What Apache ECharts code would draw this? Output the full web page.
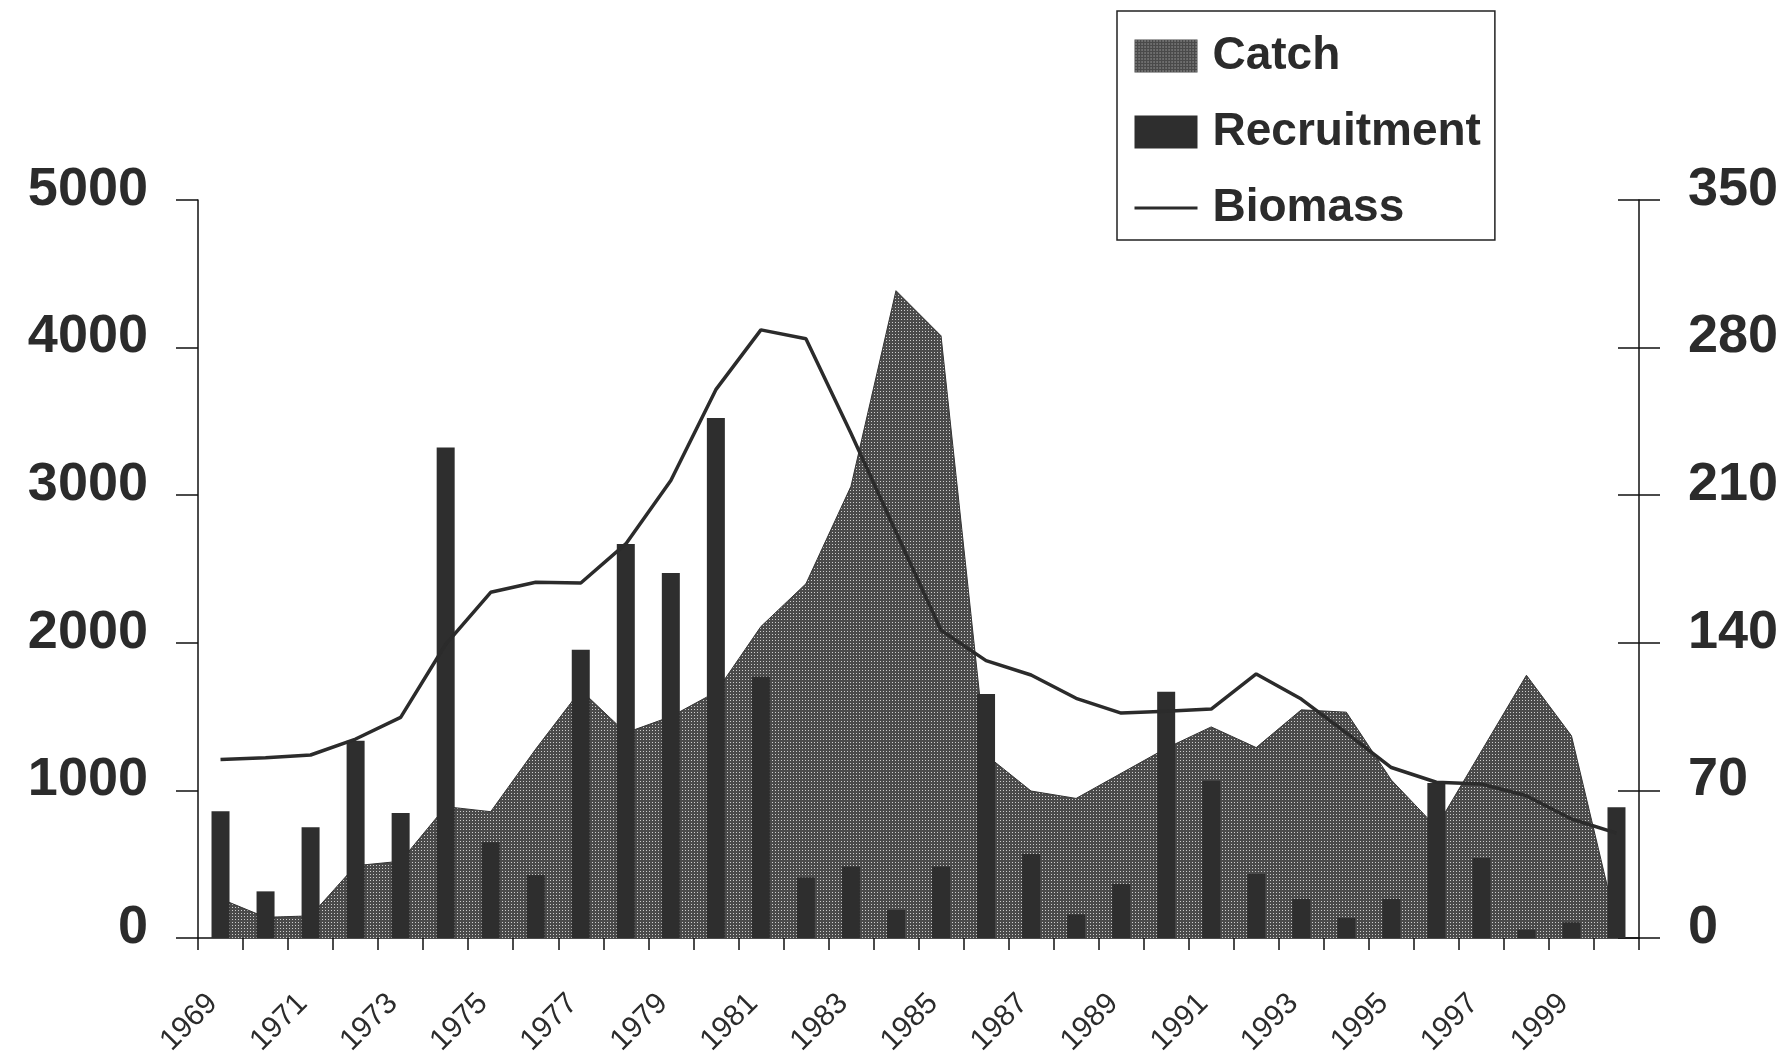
<!DOCTYPE html>
<html>
<head>
<meta charset="utf-8">
<script src="https://cdn.jsdelivr.net/npm/echarts@6/dist/echarts.min.js"></script>
<style>
  html, body { margin: 0; padding: 0; background: #ffffff; }
  #chart { width: 1791px; height: 1060px; }
</style>
</head>
<body>
<div id="chart"></div>
<script>
// ---- data ----
const years = ['1969','1970','1971','1972','1973','1974','1975','1976','1977','1978',
               '1979','1980','1981','1982','1983','1984','1985','1986','1987','1988',
               '1989','1990','1991','1992','1993','1994','1995','1996','1997','1998',
               '1999','2000'];
// Catch (right axis, 0-350)
const catchValues = [18.6, 9.8, 10.5, 34.3, 36.4, 62.3, 59.9, 89.6, 117.6, 97.3,
                     105.0, 116.6, 147.7, 168.0, 214.2, 307.0, 285.6, 86.8, 69.7, 66.2,
                     78.1, 90.0, 100.1, 90.3, 108.2, 107.1, 74.9, 52.5, 88.6, 124.6,
                     95.9, 6.3];
// Recruitment (left axis, 0-5000)
const recruitmentValues = [858, 316, 750, 1337, 847, 3323, 648, 427, 1953, 2669,
                           2473, 3523, 1770, 410, 485, 190, 485, 1653, 569, 160,
                           366, 1669, 1066, 434, 264, 136, 264, 1050, 542, 56,
                           106, 885];
// Biomass (left axis, 0-5000)
const biomassValues = [1210, 1222, 1240, 1348, 1495, 1990, 2342, 2410, 2405, 2670,
                       3100, 3715, 4120, 4060, 3420, 2750, 2085, 1879, 1782, 1624,
                       1524, 1536, 1551, 1789, 1619, 1390, 1155, 1055, 1043, 964,
                       806, 710];
const leftTicks = { min: 0, max: 5000, interval: 1000 };
const rightTicks = { min: 0, max: 350, interval: 70 };

// stipple pattern for the catch area
const pc = document.createElement('canvas');
pc.width = 3; pc.height = 3;
const pctx = pc.getContext('2d');
pctx.fillStyle = '#4a4a4a'; pctx.fillRect(0, 0, 3, 3);
pctx.fillStyle = '#cccccc'; pctx.fillRect(1, 1, 1, 1);
const stipple = { image: pc, repeat: 'repeat' };

const FONT = '"Liberation Sans", Arial, sans-serif';
const INK = '#2b2b2b';
const plain = v => String(v);

const yLabel = (margin) => ({
  fontSize: 54, fontWeight: 'bold', color: INK, margin: margin, fontFamily: FONT,
  verticalAlign: 'bottom', lineHeight: 20, formatter: plain
});

const chart = echarts.init(document.getElementById('chart'), null, { renderer: 'canvas' });
chart.setOption({
  animation: false,
  backgroundColor: '#ffffff',
  textStyle: { fontFamily: FONT },
  grid: { left: 198, right: 152, top: 200, bottom: 122, containLabel: false },
  legend: {
    orient: 'vertical',
    left: 1117, top: 11,
    padding: [22, 14, 9, 16],
    borderColor: '#222', borderWidth: 1.5,
    backgroundColor: '#fff',
    itemWidth: 63, itemHeight: 33, itemGap: 30,
    textStyle: { fontFamily: FONT, fontSize: 46, fontWeight: 'bold', color: INK, lineHeight: 46, padding: [0, 0, 0, 10] },
    data: [
      { name: 'Catch', icon: 'rect', itemStyle: { color: stipple, borderWidth: 0 } },
      { name: 'Recruitment', icon: 'rect', itemStyle: { color: '#2e2e2e', borderWidth: 0 } },
      { name: 'Biomass', itemStyle: { opacity: 0 }, lineStyle: { color: INK, width: 3 } }
    ]
  },
  xAxis: {
    type: 'category',
    data: years,
    boundaryGap: true,
    axisLine: { show: true, lineStyle: { color: '#111', width: 1.5 } },
    axisTick: { show: true, interval: 0, length: 12, alignWithLabel: false, lineStyle: { color: '#111', width: 1.5 } },
    axisLabel: {
      interval: 1, rotate: 45, margin: 53, fontFamily: FONT,
      formatter: v => '{y|' + v + '}',
      rich: { y: { fontSize: 30, color: INK, fontFamily: FONT, padding: [0, 11, 0, 0] } }
    },
    splitLine: { show: false }
  },
  yAxis: [
    {
      type: 'value', position: 'left',
      min: leftTicks.min, max: leftTicks.max, interval: leftTicks.interval,
      axisLine: { show: true, lineStyle: { color: '#111', width: 1.5 } },
      axisTick: { show: true, length: 22, lineStyle: { color: '#111', width: 1.5 } },
      axisLabel: yLabel(50),
      splitLine: { show: false }
    },
    {
      type: 'value', position: 'right',
      min: rightTicks.min, max: rightTicks.max, interval: rightTicks.interval,
      axisLine: { show: true, lineStyle: { color: '#111', width: 1.5 } },
      axisTick: { show: true, length: 21, lineStyle: { color: '#111', width: 1.5 } },
      axisLabel: yLabel(49),
      splitLine: { show: false }
    },
    {
      type: 'value', position: 'right', offset: 0,
      min: rightTicks.min, max: rightTicks.max, interval: rightTicks.interval,
      axisLine: { show: false },
      axisTick: { show: true, inside: true, length: 21, lineStyle: { color: '#111', width: 1.5 } },
      axisLabel: { show: false },
      splitLine: { show: false }
    }
  ],
  series: [
    {
      name: 'Catch', type: 'line', yAxisIndex: 1,
      data: catchValues,
      symbol: 'none',
      lineStyle: { color: '#333', width: 1 },
      areaStyle: { color: stipple, opacity: 1 },
      itemStyle: { color: '#555' },
      z: 1
    },
    {
      name: 'Recruitment', type: 'bar', yAxisIndex: 0,
      data: recruitmentValues,
      barWidth: 18,
      itemStyle: { color: '#2e2e2e' },
      z: 2
    },
    {
      name: 'Biomass', type: 'line', yAxisIndex: 0,
      data: biomassValues,
      symbol: 'none',
      lineStyle: { color: INK, width: 3.5 },
      itemStyle: { color: INK },
      z: 3
    }
  ]
});
</script>
</body>
</html>
